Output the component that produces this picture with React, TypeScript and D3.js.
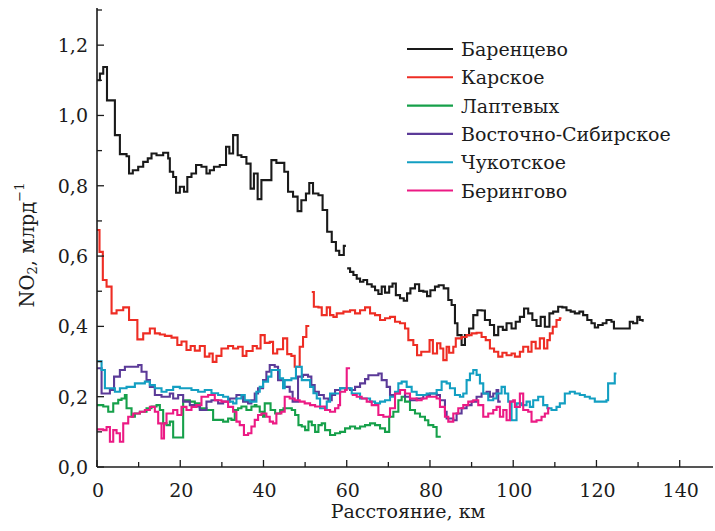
import React from "react";
import * as d3 from "d3";

type P = [number, number];

// Баренцево (two pieces)
const barentsA: P[] = [[0,1.100],[0.7,1.119],[1.5,1.138],[2.4,1.043],[4.3,0.944],[5.5,0.890],[7.1,0.884],[7.7,0.835],[8.6,0.844],[9.9,0.854],[11.1,0.868],[12.2,0.878],[13.1,0.892],[14.3,0.887],[15.9,0.894],[17.1,0.878],[17.5,0.840],[18.3,0.825],[19.0,0.780],[19.9,0.797],[20.9,0.783],[21.7,0.825],[22.7,0.835],[23.8,0.859],[25.1,0.854],[26.3,0.835],[27.1,0.844],[28.1,0.854],[29.5,0.859],[31.0,0.911],[31.8,0.892],[32.7,0.944],[33.8,0.887],[34.7,0.882],[35.9,0.863],[36.9,0.792],[37.7,0.835],[38.6,0.762],[39.5,0.816],[41.9,0.873],[43.1,0.865],[45.0,0.840],[45.9,0.783],[47.1,0.769],[48.2,0.728],[49.1,0.759],[50.2,0.778],[51.0,0.808],[51.9,0.778],[53.2,0.773],[54.2,0.731],[55.3,0.669],[56.4,0.640],[57.4,0.615],[58.2,0.603],[59.3,0.629],[59.8,0.629]];
const barentsB: P[] = [[60.1,0.565],[60.8,0.555],[61.6,0.546],[62.4,0.536],[63.2,0.527],[64.0,0.532],[64.9,0.520],[66.0,0.513],[66.8,0.503],[67.6,0.492],[68.4,0.513],[69.2,0.496],[70.2,0.513],[71.0,0.522],[71.8,0.489],[72.8,0.480],[73.7,0.473],[74.5,0.494],[75.3,0.508],[76.4,0.520],[77.4,0.501],[78.4,0.499],[79.3,0.486],[80.1,0.503],[81.2,0.513],[82.1,0.517],[83.3,0.508],[84.4,0.475],[85.2,0.461],[86.0,0.409],[86.6,0.375],[87.6,0.347],[88.4,0.375],[89.4,0.394],[90.4,0.432],[91.4,0.446],[92.4,0.445],[93.2,0.418],[94.4,0.404],[95.4,0.375],[96.4,0.399],[97.5,0.390],[98.4,0.409],[99.6,0.394],[100.6,0.413],[101.6,0.427],[102.6,0.451],[103.6,0.437],[104.6,0.418],[105.6,0.401],[106.6,0.427],[107.6,0.399],[108.7,0.437],[109.6,0.442],[110.8,0.456],[111.8,0.454],[112.8,0.446],[113.8,0.442],[114.8,0.437],[115.9,0.442],[116.8,0.432],[117.8,0.418],[118.8,0.409],[119.6,0.397],[120.4,0.404],[121.5,0.409],[122.4,0.418],[123.6,0.413],[124.2,0.394],[128.0,0.413],[128.8,0.409],[129.8,0.427],[130.4,0.418],[131.1,0.413]];

// Карское (two pieces)
const karaA: P[] = [[0,0.674],[0.6,0.612],[1.4,0.532],[2.3,0.513],[3.5,0.437],[4.7,0.446],[6.3,0.454],[7.7,0.418],[9.7,0.363],[11.1,0.380],[12.7,0.394],[13.9,0.380],[15.1,0.377],[16.3,0.373],[17.9,0.368],[19.3,0.347],[20.3,0.357],[21.5,0.333],[22.5,0.344],[23.5,0.331],[24.7,0.344],[25.9,0.314],[27.0,0.323],[27.8,0.299],[28.7,0.316],[29.9,0.337],[31.5,0.344],[32.7,0.337],[33.9,0.342],[35.0,0.316],[35.9,0.330],[37.4,0.344],[38.4,0.337],[39.3,0.375],[40.3,0.353],[41.5,0.356],[42.3,0.323],[43.3,0.335],[44.7,0.366],[45.7,0.321],[46.7,0.316],[47.5,0.285],[48.7,0.342],[49.5,0.370],[50.3,0.401],[51.0,0.401]];
const karaB: P[] = [[51.6,0.498],[52.1,0.456],[53.2,0.454],[54.0,0.432],[55.2,0.454],[56.0,0.432],[56.8,0.427],[57.6,0.437],[59.2,0.442],[60.8,0.446],[62.0,0.437],[63.2,0.446],[64.4,0.454],[65.6,0.437],[66.8,0.432],[68.0,0.418],[69.2,0.423],[70.4,0.427],[71.6,0.413],[72.8,0.409],[74.0,0.394],[74.8,0.361],[76.0,0.347],[76.9,0.318],[77.9,0.328],[79.9,0.361],[80.7,0.323],[81.7,0.352],[82.5,0.337],[83.2,0.304],[84.0,0.342],[84.6,0.325],[85.6,0.342],[86.2,0.366],[87.6,0.370],[88.8,0.375],[90.0,0.380],[91.2,0.382],[92.4,0.370],[93.4,0.361],[94.4,0.337],[95.4,0.328],[96.4,0.314],[97.4,0.325],[98.4,0.318],[99.6,0.323],[100.4,0.314],[101.6,0.328],[102.4,0.342],[103.6,0.328],[104.4,0.356],[105.4,0.337],[106.4,0.366],[107.4,0.337],[108.2,0.361],[108.8,0.380],[109.5,0.399],[110.4,0.418],[111.2,0.423],[111.6,0.423]];

// Лаптевых
const laptev: P[] = [[0,0.176],[1.5,0.172],[2.7,0.157],[3.9,0.181],[5.1,0.191],[5.9,0.195],[6.7,0.205],[7.1,0.167],[8.3,0.143],[9.1,0.152],[10.3,0.157],[11.9,0.167],[13.1,0.172],[14.3,0.176],[15.1,0.162],[15.9,0.124],[16.7,0.119],[17.5,0.129],[18.3,0.084],[20.7,0.190],[22.3,0.186],[23.5,0.181],[24.7,0.167],[26.3,0.162],[27.9,0.134],[30.3,0.129],[31.5,0.138],[32.3,0.134],[33.1,0.162],[33.9,0.167],[34.7,0.172],[35.9,0.162],[37.1,0.172],[37.9,0.176],[38.3,0.172],[39.1,0.157],[39.9,0.143],[40.3,0.181],[41.7,0.162],[42.8,0.152],[44.0,0.162],[44.8,0.167],[46.8,0.162],[47.6,0.148],[48.4,0.119],[49.2,0.115],[50.0,0.105],[50.8,0.129],[51.6,0.119],[52.4,0.100],[53.2,0.119],[54.0,0.124],[54.8,0.105],[56.0,0.091],[57.2,0.096],[58.4,0.100],[59.6,0.110],[60.8,0.115],[62.0,0.110],[63.2,0.115],[64.4,0.119],[65.6,0.124],[66.8,0.119],[68.0,0.110],[69.2,0.100],[70.2,0.143],[71.2,0.157],[72.4,0.190],[73.2,0.200],[74.0,0.186],[75.2,0.162],[76.4,0.152],[77.6,0.143],[78.8,0.133],[79.6,0.119],[80.8,0.114],[81.6,0.086],[82.6,0.086]];

// Восточно-Сибирское
const vostochno: P[] = [[0,0.281],[1.1,0.209],[3.1,0.219],[4.1,0.257],[5.5,0.276],[6.7,0.285],[9.9,0.290],[10.7,0.271],[11.9,0.247],[12.7,0.228],[13.9,0.205],[15.5,0.200],[17.5,0.209],[18.3,0.195],[19.5,0.205],[20.7,0.186],[22.3,0.176],[23.5,0.172],[24.7,0.162],[26.3,0.186],[27.5,0.190],[29.1,0.181],[30.3,0.186],[31.9,0.195],[33.5,0.205],[35.1,0.186],[36.3,0.181],[37.1,0.190],[37.9,0.209],[38.7,0.224],[39.9,0.247],[40.7,0.271],[41.5,0.290],[42.7,0.285],[43.5,0.247],[44.7,0.228],[46.3,0.214],[47.0,0.186],[48.3,0.257],[49.5,0.262],[50.7,0.257],[51.5,0.233],[52.3,0.214],[53.3,0.205],[54.5,0.195],[55.6,0.190],[56.4,0.205],[57.2,0.219],[58.4,0.224],[60.8,0.219],[62.0,0.228],[63.2,0.238],[64.4,0.250],[65.2,0.261],[67.6,0.266],[68.4,0.247],[69.6,0.228],[70.4,0.205],[71.6,0.209],[72.8,0.219],[74.0,0.200],[75.2,0.190],[76.8,0.195],[78.4,0.205],[80.0,0.209],[81.6,0.205],[82.4,0.190],[83.6,0.157],[84.0,0.138],[85.6,0.133],[86.4,0.152],[87.6,0.167],[88.8,0.176],[90.0,0.186],[91.2,0.200],[92.4,0.209],[93.6,0.214],[94.4,0.200],[95.2,0.209],[96.0,0.219],[96.4,0.186],[97.0,0.186]];

// Чукотское
const chukot: P[] = [[0,0.301],[1.1,0.276],[1.9,0.224],[4.3,0.214],[5.5,0.224],[7.1,0.228],[9.1,0.238],[11.5,0.243],[12.7,0.233],[13.9,0.224],[15.5,0.214],[16.7,0.219],[18.3,0.228],[19.9,0.224],[22.7,0.219],[24.3,0.214],[25.9,0.219],[27.5,0.210],[29.1,0.205],[30.3,0.200],[31.5,0.186],[32.7,0.181],[33.5,0.195],[34.7,0.205],[35.5,0.190],[36.7,0.186],[38.3,0.214],[39.1,0.228],[39.9,0.243],[41.1,0.257],[41.9,0.276],[43.1,0.276],[43.9,0.252],[44.7,0.224],[45.1,0.247],[46.7,0.252],[47.8,0.285],[49.2,0.247],[51.2,0.228],[52.0,0.210],[52.8,0.195],[53.6,0.167],[55.2,0.186],[56.0,0.209],[58.4,0.224],[61.2,0.209],[63.2,0.195],[65.6,0.186],[66.8,0.181],[68.0,0.186],[69.2,0.190],[70.4,0.200],[71.6,0.214],[72.4,0.238],[73.2,0.243],[74.4,0.228],[75.6,0.214],[76.8,0.205],[79.2,0.209],[81.6,0.219],[82.8,0.243],[84.0,0.238],[84.8,0.224],[86.0,0.205],[87.2,0.200],[88.0,0.209],[88.8,0.247],[89.6,0.266],[90.4,0.276],[91.2,0.262],[92.0,0.238],[92.8,0.209],[94.0,0.190],[95.2,0.195],[96.0,0.209],[97.2,0.228],[98.0,0.209],[98.8,0.186],[99.6,0.133],[100.8,0.181],[102.0,0.176],[103.2,0.186],[104.0,0.171],[104.8,0.190],[106.0,0.200],[107.2,0.176],[108.2,0.167],[109.2,0.162],[110.4,0.171],[111.2,0.181],[112.4,0.209],[113.6,0.214],[114.8,0.209],[116.0,0.205],[117.2,0.200],[118.4,0.195],[119.6,0.186],[121.2,0.186],[122.4,0.190],[122.8,0.238],[124.0,0.238],[124.4,0.266],[124.8,0.266]];

// Берингово (two pieces)
const beringA: P[] = [[0,0.107],[1.5,0.105],[2.3,0.114],[3.1,0.072],[3.9,0.105],[4.7,0.096],[5.5,0.072],[6.3,0.124],[7.5,0.143],[8.7,0.152],[10.3,0.157],[11.5,0.162],[12.7,0.171],[13.9,0.157],[14.7,0.124],[15.5,0.081],[16.1,0.124],[16.7,0.152],[18.3,0.162],[19.3,0.148],[20.3,0.171],[21.5,0.162],[22.7,0.171],[23.9,0.176],[25.1,0.200],[26.7,0.205],[28.3,0.190],[29.9,0.186],[31.5,0.171],[32.7,0.157],[33.5,0.129],[34.3,0.119],[35.3,0.091],[36.3,0.096],[37.1,0.115],[37.9,0.134],[38.7,0.148],[39.5,0.152],[40.7,0.143],[41.5,0.129],[42.3,0.124],[43.1,0.152],[44.3,0.157],[45.1,0.200],[46.3,0.195],[47.5,0.190],[48.7,0.186],[49.9,0.181],[51.2,0.176],[52.4,0.172],[54.8,0.162],[56.0,0.157],[57.2,0.167],[58.0,0.176],[58.4,0.214],[59.6,0.219],[60.0,0.281],[60.8,0.281]];
const beringB: P[] = [[61.2,0.205],[62.4,0.200],[63.6,0.195],[64.8,0.186],[66.0,0.176],[67.6,0.148],[68.8,0.143],[70.4,0.167],[71.6,0.209],[72.8,0.219],[74.0,0.209],[75.2,0.195],[76.8,0.190],[78.0,0.195],[79.2,0.200],[81.6,0.195],[82.4,0.171],[83.6,0.143],[84.4,0.129],[85.6,0.152],[86.8,0.167],[88.0,0.176],[89.2,0.186],[90.4,0.190],[91.6,0.176],[92.8,0.143],[94.0,0.152],[95.2,0.162],[96.0,0.171],[96.8,0.143],[97.6,0.162],[98.4,0.133],[99.2,0.186],[100.0,0.190],[100.4,0.171],[101.6,0.209],[102.4,0.162],[103.6,0.157],[104.4,0.129],[105.6,0.133],[106.8,0.143],[107.6,0.152],[108.4,0.167],[108.8,0.167]];

const seriesNames = ["Баренцево", "Карское", "Лаптевых", "Восточно-Сибирское", "Чукотское", "Берингово"];
const seriesColors = ["#1a1a1a", "#ee2d24", "#16a04a", "#5b3a98", "#139fc2", "#ec1a84"];
const seriesSegments: P[][][] = [[barentsA, barentsB], [karaA, karaB], [laptev], [vostochno], [chukot], [beringA, beringB]];

const xMajorTicks = [0, 20, 40, 60, 80, 100, 120, 140];
const xMinorTicks = [10, 30, 50, 70, 90, 110, 130];
const yMajorTicks = [0, 0.2, 0.4, 0.6, 0.8, 1.0, 1.2];
const yTickLabels = ["0,0", "0,2", "0,4", "0,6", "0,8", "1,0", "1,2"];
const yMinorTicks = [0.1, 0.3, 0.5, 0.7, 0.9, 1.1, 1.3];

const FONT = "'DejaVu Serif', serif";
const INK = "#1c1c1c";

export default function App() {
  const x = d3.scaleLinear().domain([0, 148]).range([97, 713]);
  const y = d3.scaleLinear().domain([0, 1.3]).range([467, 10]);
  const line = d3.line<P>().x((d) => x(d[0])).y((d) => y(d[1])).curve(d3.curveStepAfter);
  const x0 = x(0), y0 = y(0);

  return (
    <div style={{ position: "absolute", left: 0, top: 0 }}>
      <svg width={715} height={531} style={{ display: "block", background: "#fff" }}>
        {seriesSegments.map((segs, i) =>
          segs.map((seg, j) => (
            <path key={`${i}-${j}`} d={line(seg) || ""} fill="none" stroke={seriesColors[i]} strokeWidth={2.1} strokeLinejoin="miter" />
          ))
        )}
        {/* axes */}
        <line x1={x0} x2={x0} y1={y(1.3) - 2} y2={y0} stroke={INK} strokeWidth={1.6} />
        <line x1={x0} x2={x(148)} y1={y0} y2={y0} stroke={INK} strokeWidth={1.6} />
        {yMajorTicks.map((t, i) => (
          <g key={`ym${i}`}>
            <line x1={x0} x2={x0 + 7} y1={y(t)} y2={y(t)} stroke={INK} strokeWidth={1.3} />
            <text x={88} y={y(t)} textAnchor="end" dominantBaseline="central" fontFamily={FONT} fontSize={19} fill={INK}>{yTickLabels[i]}</text>
          </g>
        ))}
        {yMinorTicks.map((t, i) => (
          <line key={`yn${i}`} x1={x0} x2={x0 + 5} y1={y(t)} y2={y(t)} stroke={INK} strokeWidth={1.3} />
        ))}
        {xMajorTicks.map((t, i) => (
          <g key={`xm${i}`}>
            <line x1={x(t)} x2={x(t)} y1={y0} y2={y0 - 7} stroke={INK} strokeWidth={1.3} />
            <text x={x(t) + 1} y={490} textAnchor="middle" dominantBaseline="central" fontFamily={FONT} fontSize={19} fill={INK}>{String(t)}</text>
          </g>
        ))}
        {xMinorTicks.map((t, i) => (
          <line key={`xn${i}`} x1={x(t)} x2={x(t)} y1={y0} y2={y0 - 5} stroke={INK} strokeWidth={1.3} />
        ))}
        <text x={408} y={511} textAnchor="middle" dominantBaseline="central" fontFamily={FONT} fontSize={19} fill={INK}>Расстояние, км</text>
        <text transform="translate(27,245) rotate(-90)" textAnchor="middle" dominantBaseline="central" fontFamily={FONT} fontSize={19.5} fill={INK}>
          NO<tspan fontSize={13} dy={5}>2</tspan><tspan dy={-5}>, млрд</tspan><tspan fontSize={13} dy={-8}>−1</tspan>
        </text>
        {/* legend */}
        {seriesNames.map((name, i) => {
          const ly = 49 + i * 28.3;
          return (
            <g key={`lg${i}`}>
              <line x1={407} x2={453} y1={ly} y2={ly} stroke={seriesColors[i]} strokeWidth={2.1} />
              <text x={461} y={ly} dominantBaseline="central" fontFamily={FONT} fontSize={19} fill={INK}>{name}</text>
            </g>
          );
        })}
      </svg>
    </div>
  );
}
